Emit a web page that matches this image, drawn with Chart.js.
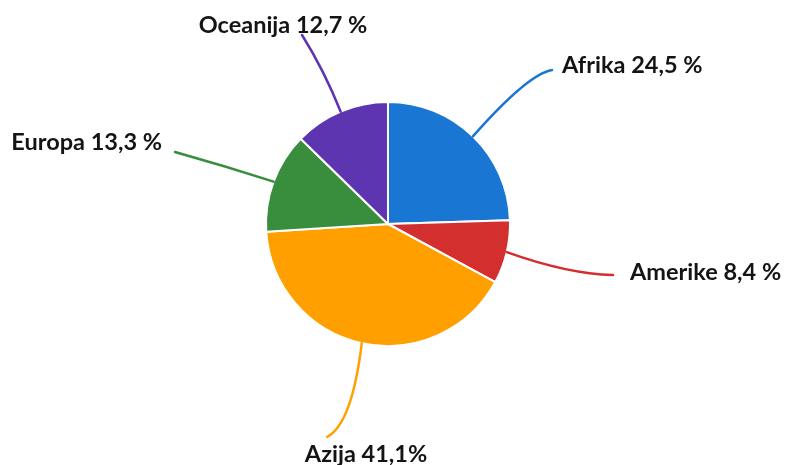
<!DOCTYPE html>
<html>
<head>
<meta charset="utf-8">
<script src="https://cdn.jsdelivr.net/npm/chart.js@4.4.1/dist/chart.umd.min.js"></script>
<style>
  html, body { margin: 0; padding: 0; background: #fff; }
  #wrap { width: 787px; height: 465px; position: relative; }
</style>
</head>
<body>
<div id="wrap"><canvas id="pita"></canvas></div>
<script>
// podaci
const kontinenti = ['Afrika', 'Amerike', 'Azija', 'Europa', 'Oceanija'];
const udjeli = [24.5, 8.4, 41.1, 13.3, 12.7];
const oznake = ['Afrika 24,5 %', 'Amerike 8,4 %', 'Azija 41,1%', 'Europa 13,3 %', 'Oceanija 12,7 %'];
const boje = ['#1976D2', '#D32F2F', '#FFA000', '#388E3C', '#5E35B1'];

// raspored oznaka: kraj linije i kontrolna tocka (odmak od sredista), pomak teksta
const rasporedOznaka = [
    { ex: 164, ey: -154, cx: 140, cy: -150, tx: 10, ty: 3, align: 'left' },
    { ex: 225, ey: 51, cx: 180, cy: 50, tx: 17, ty: 5, align: 'left' },
    { ex: -61, ey: 213, cx: -36, cy: 200, tx: 39, ty: 25, align: 'center' },
    { ex: -213, ey: -72, cx: -163, cy: -58, tx: -13, ty: -2, align: 'right' },
    { ex: -86, ey: -189, cx: -64, cy: -154, tx: -19, ty: -2, align: 'center' }
];

const oznakePlugin = {
    id: 'oznake',
    afterDatasetsDraw(chart) {
        const ctx = chart.ctx;
        const meta = chart.getDatasetMeta(0);
        meta.data.forEach((arc, i) => {
            const p = arc.getProps(['x', 'y', 'startAngle', 'endAngle', 'outerRadius'], true);
            const kut = (p.startAngle + p.endAngle) / 2;
            const sx = p.x + Math.cos(kut) * p.outerRadius;
            const sy = p.y + Math.sin(kut) * p.outerRadius;
            const r = rasporedOznaka[i];
            const ex = p.x + r.ex, ey = p.y + r.ey;
            ctx.save();
            ctx.strokeStyle = boje[i];
            ctx.lineWidth = 2.5;
            ctx.lineCap = 'round';
            ctx.beginPath();
            ctx.moveTo(sx, sy);
            ctx.quadraticCurveTo(p.x + r.cx, p.y + r.cy, ex, ey);
            ctx.stroke();
            ctx.fillStyle = '#141414';
            ctx.font = 'bold 23.5px Lato';
            ctx.textAlign = r.align;
            ctx.textBaseline = 'alphabetic';
            ctx.fillText(oznake[i], ex + r.tx, ey + r.ty);
            ctx.restore();
        });
    }
};

new Chart(document.getElementById('pita'), {
    type: 'pie',
    data: {
        labels: kontinenti,
        datasets: [{
            data: udjeli,
            backgroundColor: boje,
            borderColor: '#ffffff',
            borderWidth: 2,
            hoverOffset: 0
        }]
    },
    options: {
        responsive: true,
        maintainAspectRatio: false,
        animation: false,
        radius: 122,
        layout: { padding: { left: 0, right: 11, top: 0, bottom: 17 } },
        plugins: {
            legend: { display: false },
            tooltip: { enabled: false }
        }
    },
    plugins: [oznakePlugin]
});
</script>
</body>
</html>
